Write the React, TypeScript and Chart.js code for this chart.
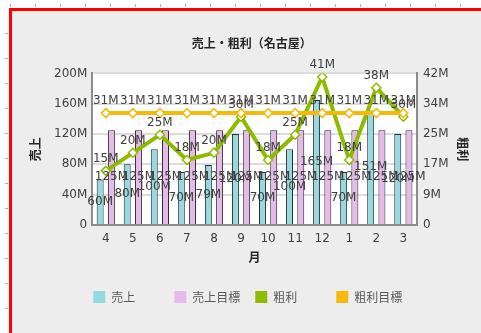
import React, { useEffect, useRef } from "react";
import { Chart, registerables } from "chart.js";

Chart.register(...registerables);

// ---- data ----
const months = ["4", "5", "6", "7", "8", "9", "10", "11", "12", "1", "2", "3"];
const sales = [60, 80, 100, 70, 79, 120, 70, 100, 165, 70, 151, 120];
const salesTarget = [125, 125, 125, 125, 125, 125, 125, 125, 125, 125, 125, 125];
const profit = [15, 20, 25, 18, 20, 30, 18, 25, 41, 18, 38, 30];
const profitTarget = [31, 31, 31, 31, 31, 31, 31, 31, 31, 31, 31, 31];
const rightTickLabels = ["0", "9M", "17M", "25M", "34M", "42M"];
const legendNames = ["売上", "売上目標", "粗利", "粗利目標"];
const chartTitle = "売上・粗利（名古屋）";
const xTitle = "月";
const yTitle = "売上";
const y1Title = "粗利";

const TEAL = "#96d9e1";
const PINK = "#e6bbea";
const GREEN = "#8cbb00";
const ORANGE = "#f6b90a";
const LEGEND_COLORS = [TEAL, PINK, GREEN, ORANGE];

const CJK = '"Noto Sans CJK JP", "Noto Sans", sans-serif';
const SANS = '"DejaVu Sans", sans-serif';

const bgPlugin = {
  id: "plotBg",
  beforeDraw(chart: any) {
    const { ctx, chartArea } = chart;
    ctx.save();
    ctx.fillStyle = "#ffffff";
    ctx.fillRect(chartArea.left, chartArea.top, chartArea.right - chartArea.left, chartArea.bottom - chartArea.top);
    ctx.restore();
  },
};

const labelPlugin = {
  id: "valueLabels",
  afterDatasetsDraw(chart: any) {
    const { ctx } = chart;
    ctx.save();
    ctx.font = `12px ${SANS}`;
    ctx.fillStyle = "#404040";
    ctx.textAlign = "center";
    ctx.textBaseline = "middle";
    chart.data.datasets.forEach((ds: any, di: number) => {
      const meta = chart.getDatasetMeta(di);
      meta.data.forEach((el: any, i: number) => {
        const v = ds.data[i];
        const text = v + "M";
        let y;
        if (ds.type === "bar") {
          y = (el.y + el.base) / 2;
        } else {
          y = el.y - 12;
        }
        ctx.fillText(text, el.x, y);
      });
    });
    ctx.restore();
  },
};

const axisTitlePlugin = {
  id: "axisTitles",
  afterDraw(chart: any) {
    const { ctx, chartArea } = chart;
    const midY = (chartArea.top + chartArea.bottom) / 2;
    ctx.save();
    ctx.font = `bold 12px ${CJK}`;
    ctx.fillStyle = "#262626";
    ctx.textAlign = "center";
    ctx.textBaseline = "middle";
    ctx.fillText(xTitle, (chartArea.left + chartArea.right) / 2, chartArea.bottom + 32);
    ctx.save();
    ctx.translate(chartArea.left - 57, midY);
    ctx.rotate(-Math.PI / 2);
    ctx.fillText(yTitle, 0, 0);
    ctx.restore();
    ctx.save();
    ctx.translate(chartArea.right + 45.5, midY);
    ctx.rotate(Math.PI / 2);
    ctx.fillText(y1Title, 0, 0);
    ctx.restore();
    ctx.restore();
  },
};

const legendPlugin = {
  id: "gridLegend",
  afterDraw(chart: any) {
    const { ctx, chartArea } = chart;
    const y = chart.height - 36;
    const itemW = 81;
    const box = 12;
    ctx.save();
    ctx.font = `12px ${CJK}`;
    ctx.textAlign = "left";
    ctx.textBaseline = "middle";
    legendNames.forEach((name, i) => {
      const x = chartArea.left + 1 + i * itemW;
      ctx.fillStyle = LEGEND_COLORS[i];
      ctx.fillRect(x, y - box / 2, box, box);
      ctx.fillStyle = "#595959";
      ctx.fillText(name, x + 18, y);
    });
    ctx.restore();
  },
};

function ChartView() {
  const ref = useRef<HTMLCanvasElement | null>(null);
  useEffect(() => {
    if (!ref.current) return;
    const tickFont = { family: SANS, size: 12 };
    const chart = new Chart(ref.current, {
      type: "bar",
      data: {
        labels: months,
        datasets: [
          {
            type: "bar",
            label: legendNames[0],
            data: sales,
            backgroundColor: TEAL,
            borderColor: "#2b2b2b",
            borderWidth: 1,
            yAxisID: "y",
            categoryPercentage: 0.83,
            barPercentage: 0.62,
            order: 2,
          },
          {
            type: "bar",
            label: legendNames[1],
            data: salesTarget,
            backgroundColor: PINK,
            borderColor: "#2b2b2b",
            borderWidth: 1,
            yAxisID: "y",
            categoryPercentage: 0.83,
            barPercentage: 0.62,
            order: 3,
          },
          {
            type: "line",
            label: legendNames[2],
            data: profit,
            borderColor: GREEN,
            borderWidth: 4,
            pointStyle: "rectRot",
            pointRadius: 4.5,
            pointBackgroundColor: "#ffffff",
            pointBorderColor: GREEN,
            pointBorderWidth: 1.5,
            yAxisID: "y1",
            tension: 0,
            order: 1,
          },
          {
            type: "line",
            label: legendNames[3],
            data: profitTarget,
            borderColor: ORANGE,
            borderWidth: 4,
            pointStyle: "rectRot",
            pointRadius: 4.5,
            pointBackgroundColor: "#ffffff",
            pointBorderColor: ORANGE,
            pointBorderWidth: 1.5,
            yAxisID: "y1",
            tension: 0,
            order: 0,
          },
        ] as any,
      },
      options: {
        responsive: true,
        maintainAspectRatio: false,
        animation: false,
        events: [],
        layout: { padding: { left: 49, right: 26.5, top: 36, bottom: 79.6 } },
        plugins: {
          legend: { display: false },
          tooltip: { enabled: false },
          title: {
            display: true,
            text: chartTitle,
            color: "#262626",
            font: { family: CJK, size: 12, weight: "bold" },
            padding: { top: 0, bottom: 23 },
          },
        },
        scales: {
          x: {
            grid: { display: false, drawTicks: false },
            border: { display: true, color: "#8c8c8c", width: 2 },
            ticks: { padding: 7, color: "#404040", font: tickFont },
          },
          y: {
            position: "left",
            min: 0,
            max: 200,
            ticks: {
              stepSize: 40,
              padding: 5,
              color: "#404040",
              font: tickFont,
              callback: (v: any) => (v === 0 ? "0" : v + "M"),
            },
            grid: { color: "#dcdcdc", lineWidth: 2, drawTicks: false },
            border: { display: true, color: "#8c8c8c", width: 2 },
          },
          y1: {
            position: "right",
            min: 0,
            max: 42,
            ticks: {
              stepSize: 8.4,
              padding: 6,
              color: "#404040",
              font: tickFont,
              callback: (_v: any, i: number) => rightTickLabels[i],
            },
            grid: { drawOnChartArea: false, drawTicks: false },
            border: { display: true, color: "#8c8c8c", width: 2 },
          },
        },
      } as any,
      plugins: [bgPlugin, labelPlugin, axisTitlePlugin, legendPlugin],
    });
    return () => chart.destroy();
  }, []);
  return <canvas ref={ref} />;
}

export default function App() {
  const topTicks = [];
  for (let x = 10; x < 481; x += 25) topTicks.push(x);
  const leftTicks = [];
  for (let y = 33; y < 333; y += 25) leftTicks.push(y);
  return (
    <div style={{ position: "fixed", left: 0, top: 0, width: 481, height: 333, background: "#ffffff", overflow: "hidden" }}>
      {topTicks.map((x) => (
        <div key={"t" + x} style={{ position: "absolute", left: x, top: 4, width: 1, height: 3, background: "#b0b0b0" }} />
      ))}
      {leftTicks.map((y) => (
        <div key={"l" + y} style={{ position: "absolute", left: 5, top: y, width: 3, height: 1, background: "#b0b0b0" }} />
      ))}
      <div
        style={{
          position: "absolute",
          left: 9,
          top: 8,
          right: 0,
          bottom: 0,
          background: "#ededed",
          borderLeft: "3px solid #ff0000",
          borderTop: "3px solid #ff0000",
        }}
      />
      <div style={{ position: "absolute", left: 0, top: 0, width: 481, height: 333 }}>
        <ChartView />
      </div>
    </div>
  );
}
